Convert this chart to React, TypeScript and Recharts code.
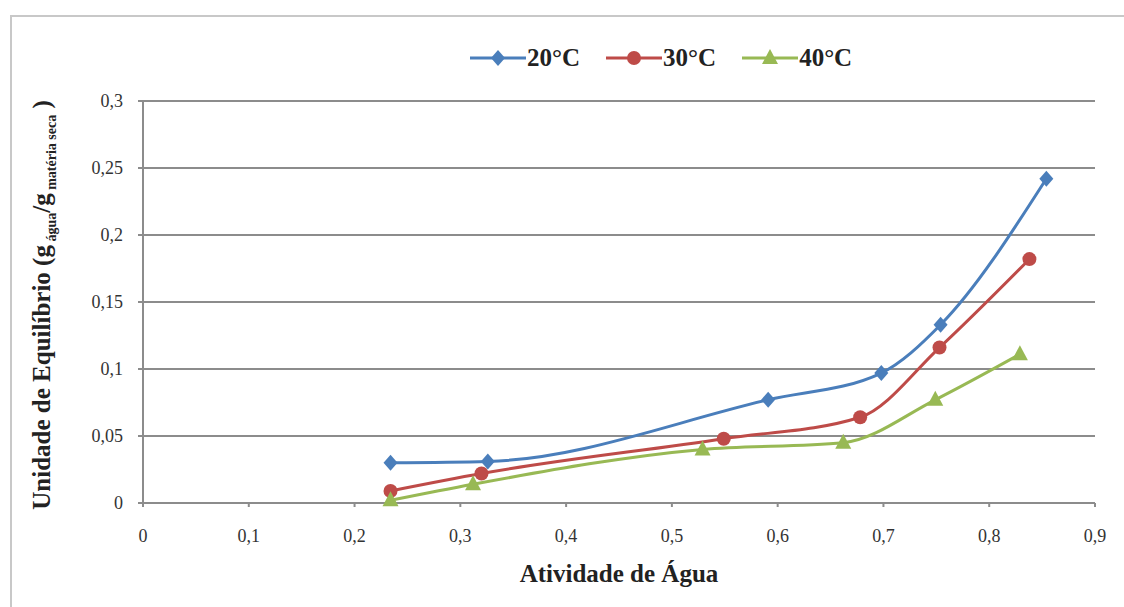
import { CartesianGrid, Line, LineChart, XAxis, YAxis } from 'recharts'

const aw20 = [0.234, 0.326, 0.591, 0.698, 0.754, 0.854]
const u20 = [0.03, 0.031, 0.077, 0.097, 0.133, 0.242]
const aw30 = [0.234, 0.32, 0.549, 0.678, 0.753, 0.838]
const u30 = [0.009, 0.022, 0.048, 0.064, 0.116, 0.182]
const aw40 = [0.234, 0.312, 0.529, 0.662, 0.749, 0.829]
const u40 = [0.002, 0.014, 0.04, 0.045, 0.077, 0.111]

const xTicks = [0, 0.1, 0.2, 0.3, 0.4, 0.5, 0.6, 0.7, 0.8, 0.9]
const yTicks = [0, 0.05, 0.1, 0.15, 0.2, 0.25, 0.3]

const toPoints = (xs: number[], ys: number[]) => xs.map((x, i) => ({ x, y: ys[i] }))

const series = [
  { name: '20°C', color: '#4a7ebb', shape: 'diamond', data: toPoints(aw20, u20) },
  { name: '30°C', color: '#be4b48', shape: 'circle', data: toPoints(aw30, u30) },
  { name: '40°C', color: '#98b954', shape: 'triangle', data: toPoints(aw40, u40) },
]

const FONT = '"Liberation Serif", "DejaVu Serif", serif'
const comma = (v: number) => String(v).replace('.', ',')

const Marker = ({ cx, cy, shape, color }: { cx: number; cy: number; shape: string; color: string }) => {
  if (shape === 'diamond') {
    return <polygon points={`${cx},${cy - 8} ${cx + 7},${cy} ${cx},${cy + 8} ${cx - 7},${cy}`} fill={color} />
  }
  if (shape === 'circle') {
    return <circle cx={cx} cy={cy} r={7} fill={color} />
  }
  return <polygon points={`${cx},${cy - 9} ${cx + 8},${cy + 6} ${cx - 8},${cy + 6}`} fill={color} />
}

const ChartLegend = () => (
  <div style={{ position: 'absolute', left: 470, top: 44, display: 'flex', gap: 26, fontFamily: FONT, fontWeight: 'bold', fontSize: 25, color: '#222' }}>
    {series.map((s) => (
      <div key={s.name} style={{ display: 'flex', alignItems: 'center' }}>
        <svg width={56} height={28}>
          <line x1={0} y1={14} x2={56} y2={14} stroke={s.color} strokeWidth={3} />
          <Marker cx={28} cy={14} shape={s.shape} color={s.color} />
        </svg>
        <span style={{ marginLeft: 1 }}>{s.name}</span>
      </div>
    ))}
  </div>
)

const YLabel = () => (
  <text
    x={50}
    y={305}
    transform="rotate(-90 50 305)"
    textAnchor="middle"
    fontFamily={FONT}
    fontWeight="bold"
    fontSize={25}
    fill="#222"
  >
    Unidade de Equilíbrio (g
    <tspan fontSize={14} dy={6}> água</tspan>
    <tspan dy={-6}>/g</tspan>
    <tspan fontSize={14} dy={6}> matéria seca</tspan>
    <tspan dy={-6}> )</tspan>
  </text>
)

export default function App() {
  return (
    <div style={{ position: 'absolute', left: 0, top: 0, width: 1124, height: 607, background: '#fff' }}>
      <div style={{ position: 'absolute', left: 10, top: 15, width: 1124, height: 600, borderLeft: '2px solid #c8c8c8', borderTop: '2px solid #c8c8c8' }} />
      <LineChart width={1124} height={607} margin={{ top: 101, right: 29, bottom: 19, left: 83 }} style={{ position: 'absolute', left: 0, top: 0 }}>
        <CartesianGrid horizontal vertical={false} stroke="#8c8c8c" strokeWidth={2} />
        <XAxis
          type="number"
          dataKey="x"
          domain={[0, 0.9]}
          ticks={xTicks}
          tickFormatter={comma}
          height={85}
          tick={{ fill: '#333', fontSize: 18, fontFamily: FONT }}
          tickSize={4}
          tickMargin={22}
          stroke="#8c8c8c"
          strokeWidth={2}
          allowDuplicatedCategory={false}
          label={{ value: 'Atividade de Água', position: 'insideBottom', offset: 6, fill: '#222', fontSize: 25, fontWeight: 'bold', fontFamily: FONT }}
        />
        <YAxis
          type="number"
          domain={[0, 0.3]}
          ticks={yTicks}
          tickFormatter={comma}
          width={60}
          tick={{ fill: '#333', fontSize: 18, fontFamily: FONT }}
          tickSize={5}
          tickMargin={15}
          stroke="#8c8c8c"
          strokeWidth={2}
          label={<YLabel />}
        />
        {series.map((s) => (
          <Line
            key={s.name}
            data={s.data}
            dataKey="y"
            name={s.name}
            type="monotone"
            stroke={s.color}
            strokeWidth={3}
            dot={(p: any) => <Marker key={`${s.name}-${p.index}`} cx={p.cx} cy={p.cy} shape={s.shape} color={s.color} />}
            isAnimationActive={false}
          />
        ))}
      </LineChart>
      <ChartLegend />
    </div>
  )
}
